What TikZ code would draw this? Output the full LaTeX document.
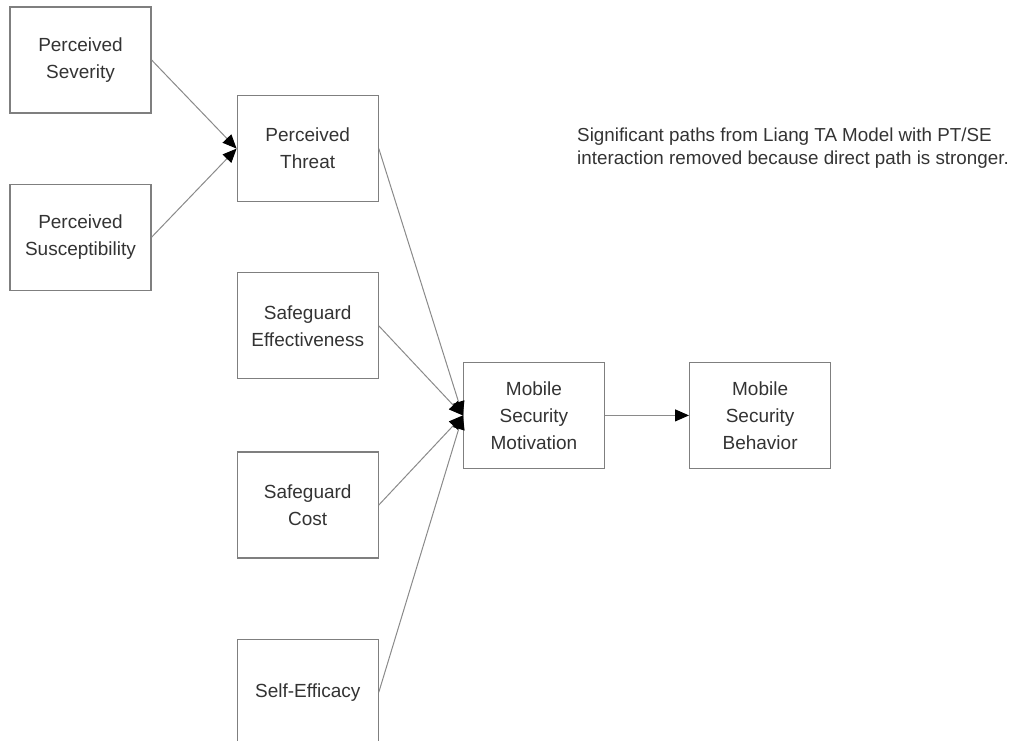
\documentclass[tikz,border=0pt]{standalone}
\usepackage{fontspec}
\setmainfont{Liberation Sans}
\usetikzlibrary{positioning}
\usetikzlibrary{calc}
\usetikzlibrary{arrows.meta}

\definecolor{boxgray}{HTML}{7F7F7F}
\definecolor{linegray}{HTML}{8A8A8A}
\definecolor{textgray}{HTML}{333333}

\begin{document}
\begin{tikzpicture}[node distance = 35pt,
							every node/.style={text=textgray},
							construct/.style={draw=boxgray, line width=0.6pt,
								minimum width=70.5pt, minimum height=53pt,
								align=center, inner sep=2pt,
								font=\fontsize{9.5}{13.5}\selectfont},
							link/.style={draw=linegray, line width=0.5pt,
								-{Triangle[color=black, fill=black, length=7pt, width=6pt]}}]
			\useasboundingbox (0,0) rectangle (507.5pt,-370pt);
			\node [construct] (severity) at (40.25pt,-30pt) {Perceived\\Severity};
			\node [construct, below=35pt of severity] (susceptibility) {Perceived\\Susceptibility};
			\coordinate (left mid) at ($(severity.east)!0.5!(susceptibility.east)$);
			\node [construct, right=42.5pt of left mid] (threat) {Perceived\\Threat};
			\node [construct, below=35pt of threat] (effectiveness) {Safeguard\\Effectiveness};
			\node [construct, below=36pt of effectiveness] (cost) {Safeguard\\Cost};
			\node [construct, below=40pt of cost] (efficacy) {Self-Efficacy};
			\coordinate (mid mid) at ($(effectiveness.east)!0.5!(cost.east)$);
			\node [construct, right=42pt of mid mid] (motivation) {Mobile\\Security\\Motivation};
			\node [construct, right=42pt of motivation] (behavior) {Mobile\\Security\\Behavior};
			\node [right=99pt of threat, inner sep=0pt, align=left,
					font=\fontsize{9.4}{11.5}\selectfont] (note)
					{Significant paths from Liang TA Model with PT/SE\\
					 interaction removed because direct path is stronger.};
			\path
				(severity.east) edge [link] (threat.west)
				(susceptibility.east) edge [link] (threat.west)
				(threat.east) edge [link] (motivation.west)
				(effectiveness.east) edge [link] (motivation.west)
				(cost.east) edge [link] (motivation.west)
				(efficacy.east) edge [link] (motivation.west)
				(motivation.east) edge [link] (behavior.west);
		\end{tikzpicture}
\end{document}
